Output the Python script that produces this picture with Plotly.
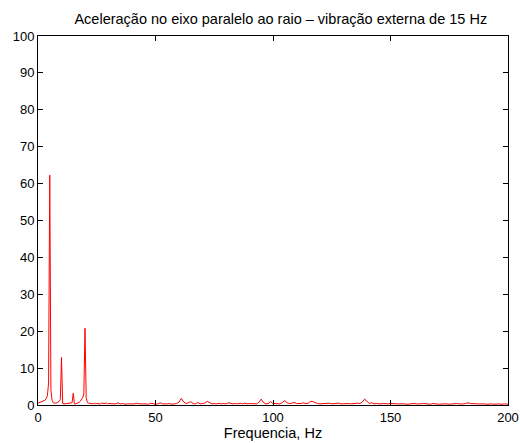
import plotly.graph_objects as go

# spectrum 0-30 Hz, 0.5 Hz steps
freq_low = [0, 0.5, 1, 1.5, 2, 2.5, 3, 3.5, 4, 4.5, 5, 5.5, 6, 6.5, 7, 7.5, 8, 8.5, 9, 9.5,
            10, 10.5, 11, 11.5, 12, 12.5, 13, 13.5, 14, 14.5, 15, 15.5, 16, 16.5, 17, 17.5,
            18, 18.5, 19, 19.5, 20, 20.5, 21, 21.5, 22, 22.5, 23, 23.5, 24, 24.5, 25, 25.5,
            26, 26.5, 27, 27.5, 28, 28.5, 29, 29.5, 30]
amp_low = [0.5, 0.6, 0.7, 0.8, 0.9, 1.0, 1.3, 1.8, 2.5, 6.0, 62.3, 4.0, 1.2, 0.6, 0.5, 0.5,
           0.6, 0.8, 1.0, 1.5, 12.9, 0.4, 0.3, 0.3, 0.4, 0.4, 0.5, 0.5, 0.5, 0.6, 3.2, 0.3,
           0.3, 0.4, 0.5, 0.7, 1.0, 1.5, 2.0, 3.0, 20.8, 2.0, 0.7, 0.5, 0.4, 0.3, 0.4, 0.3,
           0.5, 0.3, 0.4, 0.3, 0.4, 0.3, 0.5, 0.4, 0.3, 0.4, 0.6, 0.3, 0.4]

# spectrum 31-200 Hz, 1 Hz steps
freq_high = list(range(31, 201))
amp_high = [
    0.3, 0.4, 0.3, 0.6, 0.3, 0.4, 0.2, 0.3, 0.4, 0.3,   # 31-40
    0.3, 0.5, 0.3, 0.2, 0.3, 0.3, 0.2, 0.5, 0.3, 0.2,   # 41-50
    0.3, 0.6, 0.3, 0.2, 0.3, 0.4, 0.2, 0.3, 0.4, 0.8,   # 51-60
    1.8, 0.8, 0.4, 0.6, 0.9, 0.4, 0.3, 0.7, 0.3, 0.4,   # 61-70
    0.5, 1.0, 0.6, 0.3, 0.4, 0.3, 0.5, 0.3, 0.4, 0.3,   # 71-80
    0.6, 0.4, 0.3, 0.4, 0.3, 0.5, 0.3, 0.5, 0.3, 0.4,   # 81-90
    0.3, 0.4, 0.3, 0.7, 1.6, 0.6, 0.3, 0.4, 0.9, 0.4,   # 91-100
    0.3, 0.4, 0.3, 0.7, 1.2, 0.6, 0.4, 0.5, 0.7, 0.4,   # 101-110
    0.3, 0.4, 0.6, 0.4, 0.5, 1.0, 0.9, 0.6, 0.4, 0.3,   # 111-120
    0.4, 0.3, 0.4, 0.5, 0.3, 0.4, 0.3, 0.5, 0.3, 0.4,   # 121-130
    0.3, 0.4, 0.3, 0.4, 0.3, 0.5, 0.4, 0.8, 1.6, 0.9,   # 131-140
    0.4, 0.6, 0.3, 0.4, 0.3, 0.3, 0.4, 0.3, 0.3, 0.4,   # 141-150
    0.3, 0.2, 0.3, 0.3, 0.4, 0.3, 0.2, 0.3, 0.3, 0.4,   # 151-160
    0.3, 0.2, 0.3, 0.4, 0.3, 0.3, 0.2, 0.4, 0.3, 0.3,   # 161-170
    0.2, 0.3, 0.4, 0.3, 0.2, 0.3, 0.3, 0.4, 0.3, 0.2,   # 171-180
    0.3, 0.4, 0.6, 0.4, 0.3, 0.2, 0.3, 0.3, 0.4, 0.3,   # 181-190
    0.2, 0.3, 0.3, 0.2, 0.3, 0.3, 0.2, 0.3, 0.3, 0.2,   # 191-200
]

freq = freq_low + freq_high
amp = amp_low + amp_high

x_ticks = [0, 50, 100, 150, 200]
y_ticks = [0, 10, 20, 30, 40, 50, 60, 70, 80, 90, 100]

fig = go.Figure()
fig.add_trace(go.Scatter(x=freq, y=amp, mode='lines',
                         line=dict(color='#ff0000', width=1), showlegend=False))

axis_style = dict(showgrid=False, zeroline=False, showline=True, linecolor='black',
                  linewidth=1, mirror='ticks', ticks='inside', ticklen=5,
                  tickcolor='black', tickfont=dict(size=13, color='black'),
                  automargin=False)

fig.update_layout(
    width=520, height=443,
    margin=dict(l=38, r=12, t=36, b=38, autoexpand=False),
    paper_bgcolor='white', plot_bgcolor='white',
    font=dict(family='Liberation Sans, Arial, sans-serif', size=13, color='black'),
    title=dict(text='Aceleração no eixo paralelo ao raio – vibração externa de 15 Hz',
               x=0.540, xanchor='center', y=0.957, yanchor='middle',
               font=dict(size=14.5, color='black'), automargin=False),
)
fig.update_xaxes(range=[0, 200], tickvals=x_ticks,
                 title=dict(text='Frequencia, Hz', standoff=4, font=dict(size=14.5)),
                 **axis_style)
fig.update_yaxes(range=[0, 100], tickvals=y_ticks, **axis_style)

# drop the default body margin so the figure sits at the window's corner
fig.write_html("out.html", config={'displayModeBar': False},
               post_script="document.body.style.margin='0';")
